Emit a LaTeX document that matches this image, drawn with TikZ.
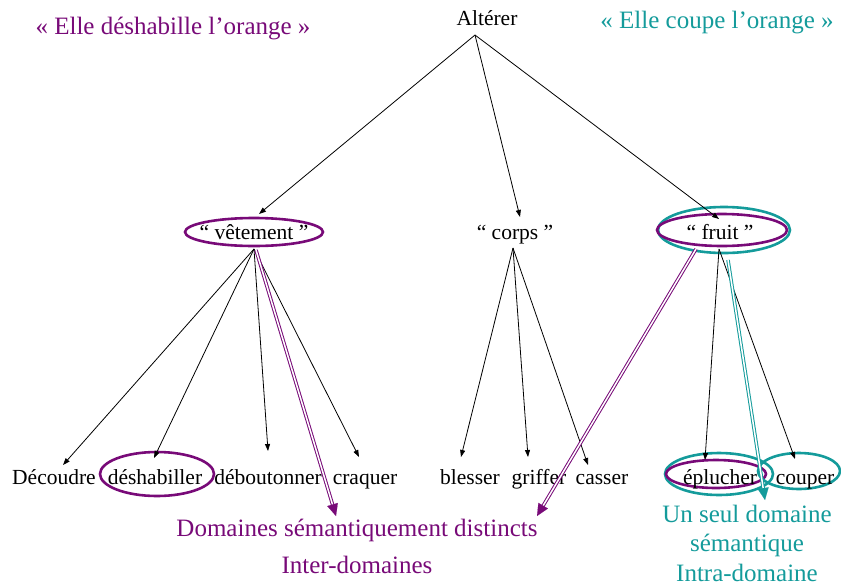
\documentclass[tikz,border=0pt]{standalone}
\usepackage{fontspec}
\setmainfont{Liberation Serif}
\usetikzlibrary{arrows.meta,calc}
\definecolor{vio}{RGB}{120,10,120}
\definecolor{tea}{RGB}{20,155,155}
\tikzset{
  lbl/.style={inner sep=0pt, anchor=base, font=\fontsize{21.5}{24}\selectfont},
  ttl/.style={inner sep=0pt, anchor=base, font=\fontsize{25}{28}\selectfont},
  arr/.style={black, line width=0.8pt, -{Triangle[length=7pt,width=5pt]}},
  ringv/.style={vio, line width=2.6pt},
  ringt/.style={tea, line width=2.6pt},
  dblv/.style={vio, line width=1pt, double=white, double distance=1.5pt, shorten >=10pt},
  dblt/.style={tea, line width=1pt, double=white, double distance=1.5pt, shorten >=10pt},
  headv/.style={vio, line width=0.1pt, -{Triangle[length=12pt,width=11pt]}},
  headt/.style={tea, line width=0.1pt, -{Triangle[length=12pt,width=11pt]}},
}
\begin{document}
\begin{tikzpicture}[x=1pt,y=-1pt]
\useasboundingbox (0,0) rectangle (841,587);
% rings
\draw[ringv] (254,232) ellipse [x radius=69, y radius=14];
\draw[ringt] (724,230) ellipse [x radius=66, y radius=23];
\draw[ringv] (722,230) ellipse [x radius=65, y radius=16];
\draw[ringv] (157,474) ellipse [x radius=57, y radius=22];
\draw[ringt] (719,474) ellipse [x radius=54, y radius=21];
\draw[ringv] (716,474) ellipse [x radius=50, y radius=14];
\draw[ringt] (799,471) ellipse [x radius=41, y radius=18];
% nodes
\node[lbl] (alt) at (487,25) {Altérer};
\node[ttl, text=vio] (t1) at (173,34) {« Elle déshabille l’orange »};
\node[ttl, text=tea] (t2) at (717,28) {« Elle coupe l’orange »};
\node[lbl] (vet) at (254,239) {“ vêtement ”};
\node[lbl] (corps) at (515,239) {“ corps ”};
\node[lbl] (fruit) at (720,239) {“ fruit ”};
\node[lbl] (dec) at (54,484) {Découdre};
\node[lbl] (des) at (155,484) {déshabiller};
\node[lbl] (deb) at (268,484) {déboutonner};
\node[lbl] (cra) at (365,484) {craquer};
\node[lbl] (ble) at (470,484) {blesser};
\node[lbl] (gri) at (539,484) {griffer};
\node[lbl] (cas) at (602,484) {casser};
\node[lbl] (epl) at (720,484) {éplucher};
\node[lbl] (cou) at (805,484) {couper};
\node[ttl, text=vio] (dist) at (357,536) {Domaines sémantiquement distincts};
\node[ttl, text=vio] (inter) at (357,573) {Inter-domaines};
\node[ttl, text=tea] (seul) at (747,522) {Un seul domaine};
\node[ttl, text=tea] (sem) at (747,551) {sémantique};
\node[ttl, text=tea] (intra) at (747,581) {Intra-domaine};
% connector points
\coordinate (altS) at (475,35);
\coordinate (vetN) at (259,214);
\coordinate (corpsN) at (520,217);
\coordinate (fruitN) at (719,219);
\coordinate (vetS) at (254,249);
\coordinate (corpsS) at (513,248);
\coordinate (fruitS) at (719,249);
\coordinate (decT) at (63,465);
\coordinate (desT) at (154,458);
\coordinate (debT) at (268,451);
\coordinate (craT) at (359,457);
\coordinate (bleT) at (461,457);
\coordinate (griT) at (528,457);
\coordinate (casT) at (588,465);
\coordinate (eplT) at (705,460);
\coordinate (couT) at (795,459);
\coordinate (vetD) at (256,250);
\coordinate (distT1) at (336,516);
\coordinate (fruitD) at (696,249);
\coordinate (distT2) at (537,516);
\coordinate (fruitE) at (728,260);
\coordinate (seulT) at (765,500);
% arrows
\draw[arr] (altS) -- (vetN);
\draw[arr] (altS) -- (corpsN);
\draw[arr] (altS) -- (fruitN);
\draw[arr] (vetS) -- (decT);
\draw[arr] (vetS) -- (desT);
\draw[arr] (vetS) -- (debT);
\draw[arr] (vetS) -- (craT);
\draw[arr] (corpsS) -- (bleT);
\draw[arr] (corpsS) -- (griT);
\draw[arr] (corpsS) -- (casT);
\draw[arr] (fruitS) -- (eplT);
\draw[arr] (fruitS) -- (couT);
% double arrows
\draw[dblv] (vetD) -- (distT1);
\draw[headv] ($(distT1)!12pt!(vetD)$) -- (distT1);
\draw[dblv] (fruitD) -- (distT2);
\draw[headv] ($(distT2)!12pt!(fruitD)$) -- (distT2);
\draw[dblt] (fruitE) -- (seulT);
\draw[headt] ($(seulT)!12pt!(fruitE)$) -- (seulT);
\end{tikzpicture}
\end{document}
